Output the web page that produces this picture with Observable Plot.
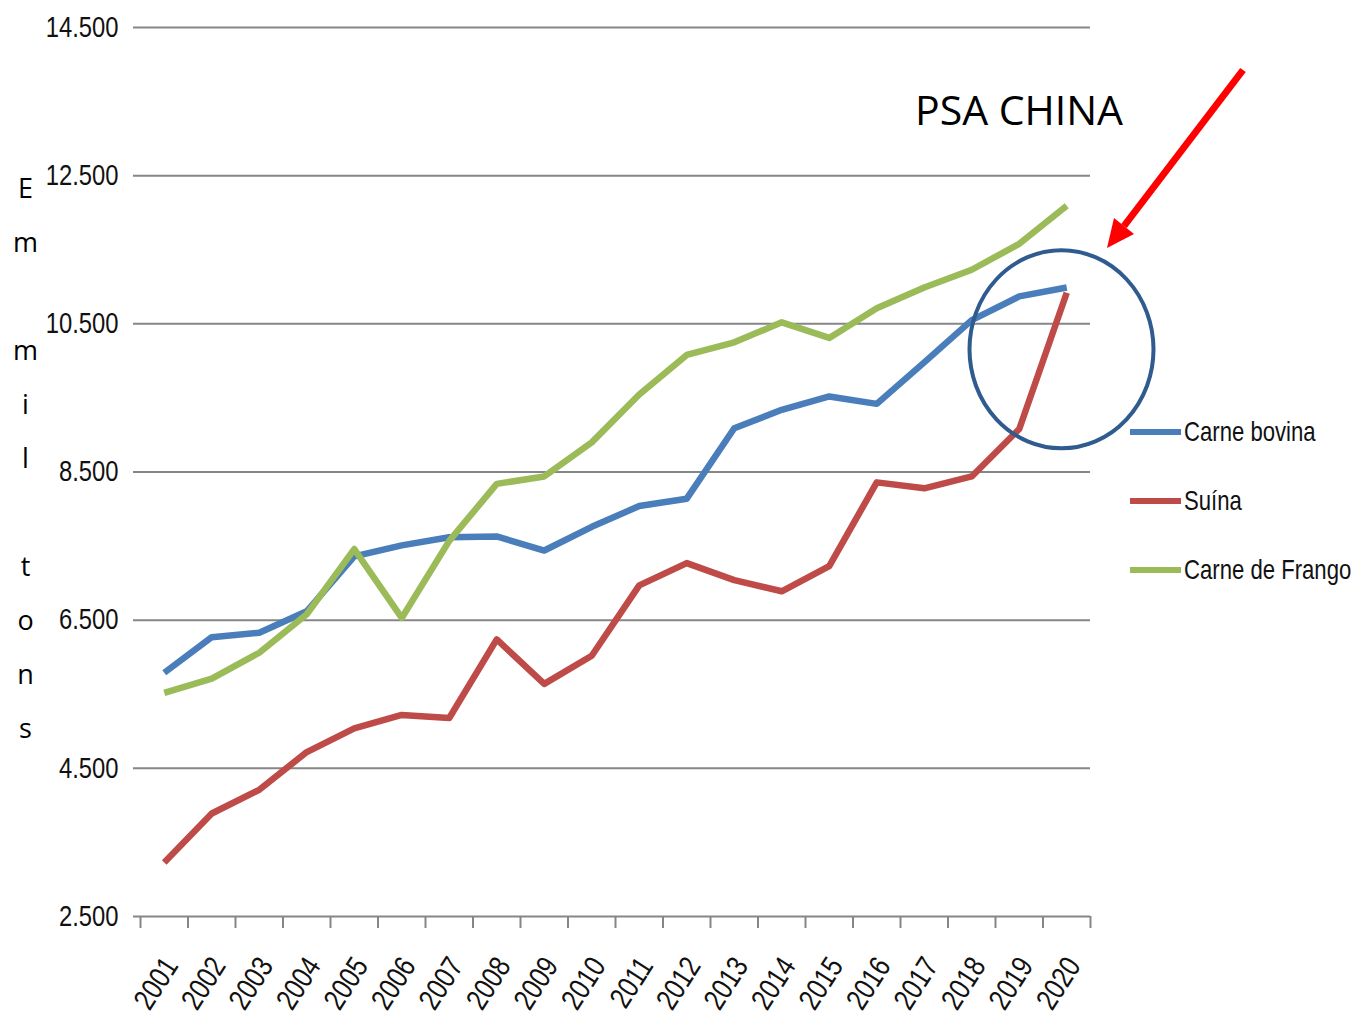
<!DOCTYPE html>
<html><head><meta charset="utf-8">
<script src="https://cdn.jsdelivr.net/npm/d3@7"></script>
<script src="https://cdn.jsdelivr.net/npm/@observablehq/plot@0.6"></script>
<style>body{margin:0;background:#fff} #chart{width:1358px;height:1021px}</style>
</head><body><div id="chart"></div>
<script>
const years = [2001,2002,2003,2004,2005,2006,2007,2008,2009,2010,2011,2012,2013,2014,2015,2016,2017,2018,2019,2020];
const bovina = [5790,6270,6330,6620,7360,7510,7620,7630,7440,7760,8040,8140,9090,9340,9520,9420,9980,10550,10870,10990];
const suina  = [3230,3890,4210,4720,5040,5220,5180,6240,5640,6020,6970,7270,7040,6890,7230,8360,8280,8440,9080,10920];
const frango = [5520,5710,6060,6580,7460,6530,7570,8340,8440,8900,9545,10080,10250,10520,10310,10710,10990,11230,11580,12095];
const seriesNames = ["Carne bovina","Suína","Carne de Frango"];
const seriesColors = ["#4A7EBB","#BE4B48","#9BBB59"];
const yTicks = [2500,4500,6500,8500,10500,12500,14500];
const axisLetters = ["E","m"," ","m","i","l"," ","t","o","n","s"];
const annotationText = "PSA CHINA";

const seriesValues = [bovina, suina, frango];
const data = seriesNames.flatMap((s, k) => years.map((yr, i) => ({year: yr, value: seriesValues[k][i], s})));
const boundaries = [...years.map(y => y - 0.5), years[years.length - 1] + 0.5];
const loc = d3.formatLocale({decimal: ",", thousands: ".", grouping: [3], currency: ["", ""]});
const fmt = loc.format(",");
const FONT = "'Liberation Sans',Arial,sans-serif";
const NARROW = 0.82;

const plot = Plot.plot({
  width: 1358, height: 1021,
  marginLeft: 140, marginRight: 268, marginTop: 27, marginBottom: 105,
  style: {fontFamily: FONT, background: "#fff", color: "#000", overflow: "visible"},
  x: {type: "linear", domain: [boundaries[0], boundaries[boundaries.length - 1]]},
  y: {domain: [2500, 14500]},
  color: {domain: seriesNames, range: seriesColors},
  marks: [
    Plot.ruleY(yTicks, {stroke: "#868686", strokeWidth: 2, insetLeft: -7}),
    Plot.axisY({ticks: yTicks, tickSize: 0, tickPadding: 22, tickFormat: fmt, fontSize: 29, label: null, fill: "#111"}),
    Plot.axisX({ticks: boundaries, tickSize: 12, tickFormat: () => "", stroke: "#868686", strokeWidth: 2, strokeOpacity: 1, label: null}),
    Plot.text(years, {x: d => d, frameAnchor: "bottom", text: d => String(d), rotate: -57, textAnchor: "end", lineAnchor: "middle", dy: 44, dx: 7, fontSize: 30, fill: "#111", className: "xlab"}),
    Plot.text([axisLetters.join("\n")], {frameAnchor: "left", text: d => d, dx: -115, dy: -21, lineHeight: 2.0, fontSize: 27, fontFamily: "'Open Sans',sans-serif", fill: "#000", textAnchor: "middle"}),
    Plot.line(data, {x: "year", y: "value", stroke: "s", z: "s", strokeWidth: 6.5, strokeLinejoin: "round", strokeLinecap: "butt"})
  ]
});
document.getElementById("chart").appendChild(plot);

const svg = d3.select(plot);
const xs = plot.scale("x"), ys = plot.scale("y");
// ellipse annotation
svg.append("ellipse")
  .attr("cx", xs.apply(2019.9)).attr("cy", ys.apply(10150))
  .attr("rx", 92).attr("ry", 99)
  .attr("fill", "none").attr("stroke", "#2F5B8E").attr("stroke-width", 4);
// arrow
svg.append("line").attr("x1", 1243).attr("y1", 70).attr("x2", 1124).attr("y2", 226)
  .attr("stroke", "#FF0000").attr("stroke-width", 7);
svg.append("polygon").attr("points", "1107,248 1134,234 1114,218").attr("fill", "#FF0000");
// title annotation
svg.append("text").attr("x", 915).attr("y", 125).attr("text-anchor", "start")
  .attr("font-family", "'Open Sans',sans-serif")
  .attr("font-size", 41).attr("fill", "#000").text(annotationText);
// legend (condensed via horizontal scale)
const lg = svg.append("g").attr("class", "legend");
seriesNames.forEach((name, i) => {
  const y = 432 + i * 69;
  lg.append("line").attr("x1", 1130).attr("x2", 1181).attr("y1", y).attr("y2", y)
    .attr("stroke", seriesColors[i]).attr("stroke-width", 6);
  lg.append("text").attr("transform", `translate(1184,${y}) scale(${NARROW},1)`)
    .attr("dy", "0.35em").attr("text-anchor", "start")
    .attr("font-family", FONT).attr("font-size", 27).attr("fill", "#111").text(name);
});

// emulate a narrow (condensed) face
function narrow(nodes) {
  nodes.each(function () {
    const L = this.getComputedTextLength();
    if (L > 0) {
      this.setAttribute("textLength", L * NARROW);
      this.setAttribute("lengthAdjust", "spacingAndGlyphs");
    }
  });
}
narrow(svg.selectAll('g[aria-label="y-axis tick label"] text'));
narrow(svg.selectAll('.xlab text'));
</script>
</body></html>
